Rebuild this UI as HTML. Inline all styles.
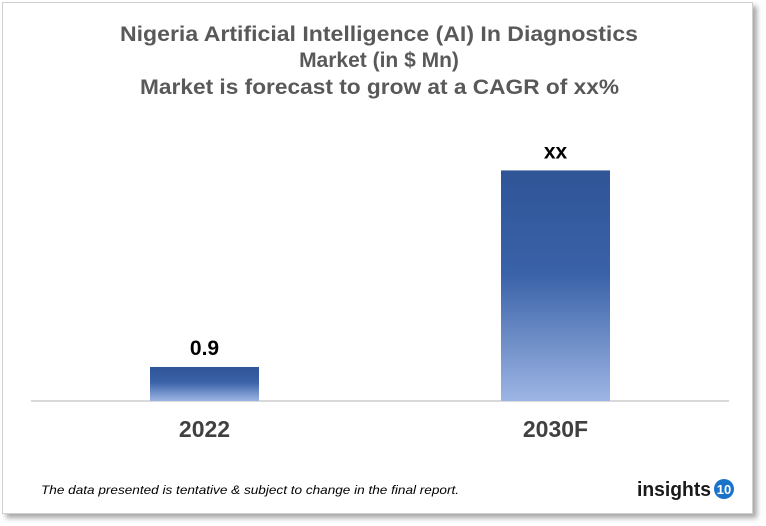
<!DOCTYPE html>
<html><head><meta charset="utf-8"><style>
body{margin:0;width:766px;height:525px;background:#fff;font-family:"Liberation Sans",sans-serif;overflow:hidden}
#card{position:absolute;left:2px;top:2px;width:749px;height:510px;background:#fff;border:1px solid #d0d0d0;box-shadow:4px 4px 5px rgba(0,0,0,0.35)}
</style></head><body>
<div id="card">
<svg width="766" height="525" style="position:absolute;left:-2px;top:-2px">
<defs><linearGradient id="g" x1="0" y1="0" x2="0" y2="1">
<stop offset="0" stop-color="#2f5597"/><stop offset="0.45" stop-color="#3a62a8"/><stop offset="1" stop-color="#9db5e4"/></linearGradient></defs>
<g font-weight="bold" fill="#595959" font-size="21">
<text x="119" y="40" textLength="518" lengthAdjust="spacingAndGlyphs">Nigeria Artificial Intelligence (AI) In Diagnostics</text>
<text x="378" y="66" text-anchor="middle">Market (in $ Mn)</text>
<text x="139" y="93" textLength="479" lengthAdjust="spacingAndGlyphs">Market is forecast to grow at a CAGR of xx%</text>
</g>
<line x1="30" y1="400" x2="728" y2="400" stroke="#d9d9d9" stroke-width="2"/>
<g id="bars"></g>
<text x="40" y="493" font-size="12" font-style="italic" fill="#000" textLength="418" lengthAdjust="spacingAndGlyphs">The data presented is tentative &amp; subject to change in the final report.</text>
<g>
<text x="636" y="495" font-size="20" font-weight="bold" fill="#1a1a1a" textLength="74" lengthAdjust="spacingAndGlyphs">insights</text>
<circle cx="723" cy="488" r="10" fill="#1a73c8"/>
<text x="723" y="493" font-size="13" font-weight="bold" fill="#fff" text-anchor="middle">10</text>
</g>
</svg></div>
<script>
const categories=["2022","2030F"];
const values=[0.9,6.1];
const labels=["0.9","xx"];
const base=400, perUnit=37.8, barW=109;
const centers=[203.5,554.5];
const g=document.getElementById('bars');
const ns="http://www.w3.org/2000/svg";
categories.forEach((c,i)=>{
 const h=values[i]*perUnit;
 const r=document.createElementNS(ns,'rect');
 r.setAttribute('x',centers[i]-barW/2);r.setAttribute('y',base-h);
 r.setAttribute('width',barW);r.setAttribute('height',h);r.setAttribute('fill','url(#g)');
 
 
 g.appendChild(r);
 const t=document.createElementNS(ns,'text');
 t.setAttribute('x',centers[i]);t.setAttribute('y',base-h-12);
 t.setAttribute('text-anchor','middle');t.setAttribute('font-size','21');t.setAttribute('font-weight','bold');
 t.textContent=labels[i];
 
 
 g.appendChild(t);
 const x=document.createElementNS(ns,'text');
 x.setAttribute('x',centers[i]);x.setAttribute('y',436);
 x.setAttribute('text-anchor','middle');x.setAttribute('font-size','23');x.setAttribute('font-weight','bold');x.setAttribute('fill','#404040');
 x.textContent=c;
 
 
 g.appendChild(x);
});
</script>
</body></html>
